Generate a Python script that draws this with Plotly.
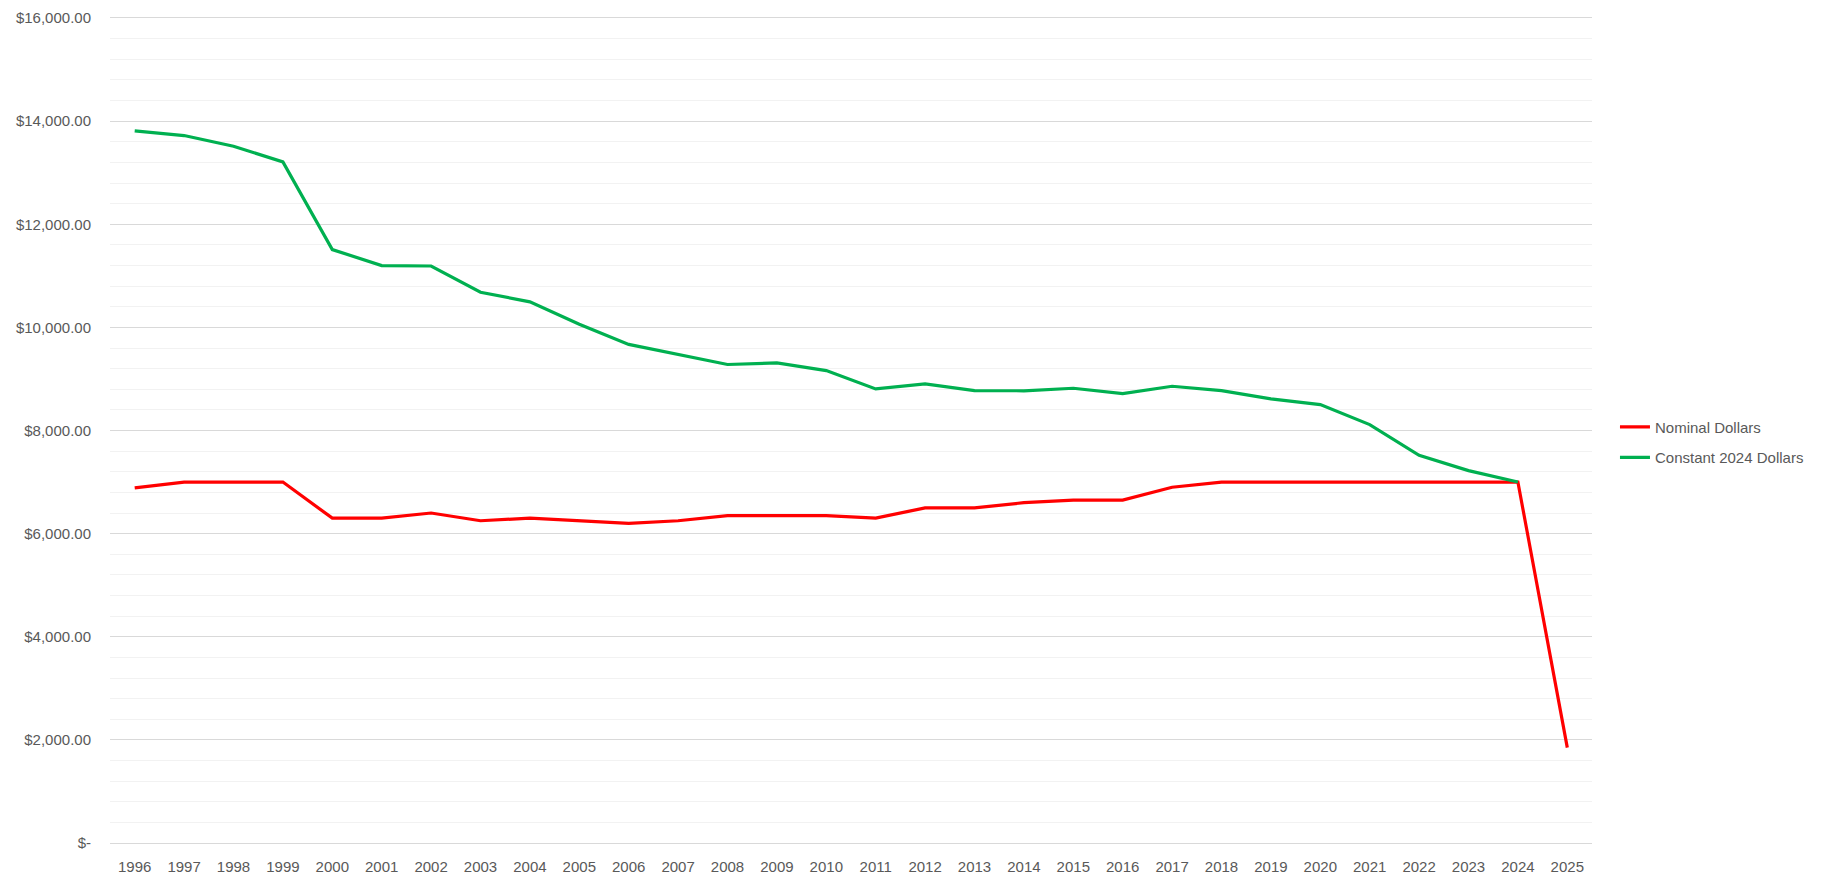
import plotly.graph_objects as go

years = [str(y) for y in range(1996, 2026)]

nominal = [6886, 7000, 7000, 7000, 6300, 6300, 6400, 6250, 6300, 6250,
           6200, 6250, 6350, 6350, 6350, 6300, 6500, 6500, 6600, 6650,
           6650, 6900, 7000, 7000, 7000, 7000, 7000, 7000, 7000, 1850]

constant_2024 = [13812, 13720, 13513, 13210, 11509, 11199, 11190, 10681, 10495, 10060,
                 9670, 9472, 9280, 9311, 9162, 8807, 8904, 8774, 8770, 8819,
                 8716, 8858, 8774, 8613, 8502, 8114, 7519, 7222, 7000, None]

y_tickvals = [0, 2000, 4000, 6000, 8000, 10000, 12000, 14000, 16000]
y_ticktext = ["$-", "$2,000.00", "$4,000.00", "$6,000.00", "$8,000.00",
              "$10,000.00", "$12,000.00", "$14,000.00", "$16,000.00"]

font_family = "Liberation Sans, Arial, sans-serif"
text_color = "#595959"

fig = go.Figure()
fig.add_trace(go.Scatter(
    x=years, y=nominal, mode="lines", name="Nominal Dollars",
    line=dict(color="#ff0000", width=3.2), legendgroup="a"))
fig.add_trace(go.Scatter(
    x=years, y=constant_2024, mode="lines", name="Constant 2024 Dollars",
    line=dict(color="#00b050", width=3.2), legendgroup="b", connectgaps=False))

fig.update_layout(
    width=1831, height=870,
    margin=dict(l=102, r=247, t=10, b=35),
    paper_bgcolor="white", plot_bgcolor="white",
    font=dict(family=font_family, size=15, color=text_color),
    showlegend=True,
    legend=dict(x=1.0155, xanchor="left", y=0.486, yanchor="middle",
                font=dict(size=15, color=text_color),
                tracegroupgap=8,
                bgcolor="rgba(0,0,0,0)"),
    xaxis=dict(type="category", range=[-0.5, 29.5], showgrid=False,
               showline=True, mirror=True, linecolor="#d9d9d9", linewidth=1,
               ticks="", zeroline=False, automargin=False,
               ticklabelstandoff=10,
               tickfont=dict(size=15, color=text_color)),
    yaxis=dict(range=[0, 16000], tickvals=y_tickvals, ticktext=y_ticktext,
               showgrid=True, gridcolor="#d9d9d9", gridwidth=1,
               zeroline=False, showline=False, ticks="", automargin=False,
               ticklabelstandoff=18,
               minor=dict(dtick=400, showgrid=True, gridcolor="#f2f2f2", gridwidth=1),
               tickfont=dict(size=15, color=text_color)),
)

fig.write_html("out.html")
